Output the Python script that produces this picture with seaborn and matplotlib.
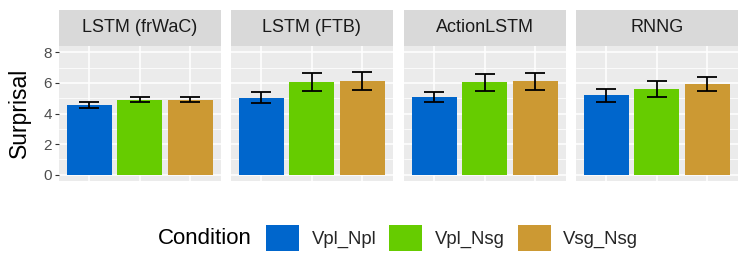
import numpy as np
import pandas as pd
import matplotlib
matplotlib.use("Agg")
import matplotlib.pyplot as plt
from matplotlib.patches import Patch
import seaborn as sns

models = ["LSTM (frWaC)", "LSTM (FTB)", "ActionLSTM", "RNNG"]
conditions = ["Vpl_Npl", "Vpl_Nsg", "Vsg_Nsg"]
colors = ["#0066CC", "#66CC00", "#CC9933"]

# mean surprisal per model (rows) x condition (cols)
means = [
    [4.58, 4.91, 4.91],
    [5.04, 6.03, 6.12],
    [5.07, 6.03, 6.12],
    [5.18, 5.61, 5.92],
]
lower = [
    [4.39, 4.74, 4.74],
    [4.69, 5.46, 5.53],
    [4.74, 5.50, 5.57],
    [4.76, 5.11, 5.48],
]
upper = [
    [4.76, 5.07, 5.07],
    [5.39, 6.64, 6.69],
    [5.41, 6.60, 6.66],
    [5.59, 6.14, 6.40],
]
yticks = [0, 2, 4, 6, 8]

sns.set_theme(style="white")
plt.rcParams["font.family"] = ["Liberation Sans", "DejaVu Sans"]

W, H = 747, 279
fig = plt.figure(figsize=(W / 100, H / 100), dpi=100)
fig.patch.set_facecolor("white")

panel_x = [59, 231, 404, 576]
panel_w = 161.5
p_top, p_bot = 46, 181
s_top = 10

for i, model in enumerate(models):
    x0 = panel_x[i]
    ax = fig.add_axes([x0 / W, 1 - p_bot / H, panel_w / W, (p_bot - p_top) / H])
    ax.set_facecolor("#EBEBEB")
    df = pd.DataFrame({"Condition": conditions, "Surprisal": means[i]})
    sns.barplot(data=df, x="Condition", y="Surprisal", hue="Condition",
                order=conditions, hue_order=conditions, palette=colors,
                width=0.9, saturation=1, errorbar=None, legend=False, ax=ax,
                linewidth=0, zorder=3)
    m = np.array(means[i])
    lo = m - np.array(lower[i])
    hi = np.array(upper[i]) - m
    ax.errorbar(np.arange(3), m, yerr=[lo, hi], fmt="none", ecolor="black",
                elinewidth=1.3, capsize=7.2, capthick=1.3, zorder=4)
    ax.set_xlim(-0.6, 2.6)
    ax.set_ylim(-0.42, 8.42)
    ax.set_yticks(yticks)
    ax.set_yticks([1, 3, 5, 7], minor=True)
    ax.grid(True, which="major", color="white", linewidth=1.1, zorder=0)
    ax.grid(True, which="minor", axis="y", color="white", linewidth=0.55, zorder=0)
    ax.set_axisbelow(True)
    for s in ax.spines.values():
        s.set_visible(False)
    ax.set_xlabel("")
    ax.set_ylabel("")
    ax.tick_params(axis="x", which="both", length=0, labelbottom=False)
    if i == 0:
        ax.tick_params(axis="y", which="major", length=3.2, width=0.8,
                       color="#333333", labelsize=11, labelcolor="#4D4D4D", pad=2,
                       left=True)
        ax.tick_params(axis="y", which="minor", length=0)
    else:
        ax.tick_params(axis="y", which="both", length=0, labelleft=False)

    sax = fig.add_axes([x0 / W, 1 - p_top / H, panel_w / W, (p_top - s_top) / H])
    sax.set_facecolor("#D9D9D9")
    sax.set_xticks([])
    sax.set_yticks([])
    for s in sax.spines.values():
        s.set_visible(False)
    sax.text(0.5, 0.5, model, ha="center", va="center", fontsize=13,
             color="#1A1A1A", transform=sax.transAxes)

fig.text(19 / W, 1 - 113 / H, "Surprisal", rotation=90, ha="center",
         va="center", fontsize=16.5, color="black")

# legend
handles = [Patch(facecolor=c, edgecolor="none", label=l) for c, l in zip(colors, conditions)]
fig.text(158 / W, 1 - 239 / H, "Condition", ha="left", va="center",
         fontsize=16, color="black")
leg = fig.legend(handles=handles, loc="center left",
                 bbox_to_anchor=(266 / W, 1 - 238 / H), ncol=3, frameon=False,
                 fontsize=13.3, handlelength=1.78, handleheight=1.78,
                 handletextpad=0.69, columnspacing=0.7, borderpad=0,
                 borderaxespad=0)

fig.savefig("out.png", dpi=100)
